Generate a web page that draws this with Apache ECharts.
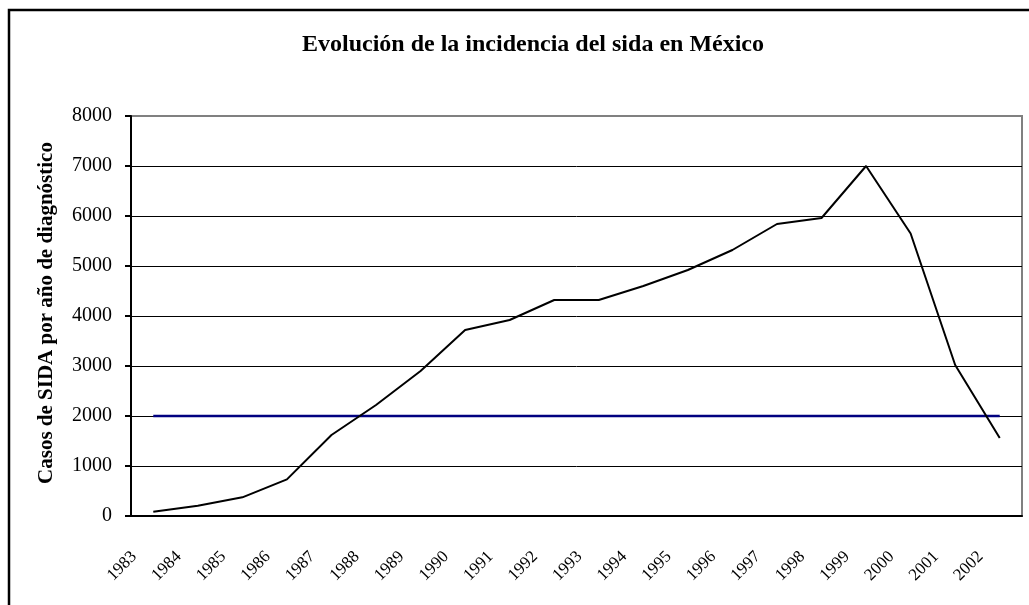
<!DOCTYPE html>
<html>
<head>
<meta charset="utf-8">
<script src="https://cdn.jsdelivr.net/npm/echarts@6/dist/echarts.min.js"></script>
<style>html,body{margin:0;padding:0;background:#fff}#c{width:1029px;height:605px}</style>
</head>
<body>
<div id="c"></div>
<script>
var years = ['1983','1984','1985','1986','1987','1988','1989','1990','1991','1992','1993','1994','1995','1996','1997','1998','1999','2000','2001','2002'];
var casos = [86, 206, 373, 733, 1620, 2220, 2900, 3720, 3920, 4320, 4320, 4600, 4920, 5320, 5840, 5960, 7000, 5650, 3020, 1560];
var referencia = [2000,2000,2000,2000,2000,2000,2000,2000,2000,2000,2000,2000,2000,2000,2000,2000,2000,2000,2000,2000];
var titleText = 'Evolución de la incidencia del sida en México';
var yName = 'Casos de SIDA por año de diagnóstico';

var serif = '"Liberation Serif", "Times New Roman", serif';
var chart = echarts.init(document.getElementById('c'));
chart.setOption({
  animation: false,
  backgroundColor: '#fff',
  grid: {left: 131, right: 7, top: 116, bottom: 89, show: true, borderColor: '#808080', borderWidth: 2, backgroundColor: 'transparent'},
  graphic: [
    {type: 'rect', shape: {x: 9, y: 10, width: 1100, height: 700}, style: {fill: 'none', stroke: '#000', lineWidth: 2.5}, z: 100},
    {type: 'text', x: 533, y: 45, style: {text: titleText, fontFamily: serif, fontWeight: 'bold', fontSize: 24, fill: '#000', textAlign: 'center', textVerticalAlign: 'middle'}},
    {type: 'text', x: 47, y: 313, rotation: Math.PI / 2, style: {text: yName, fontFamily: serif, fontWeight: 'bold', fontSize: 21, fill: '#000', textAlign: 'center', textVerticalAlign: 'middle'}}
  ],
  xAxis: {
    type: 'category',
    data: years,
    boundaryGap: true,
    axisLine: {lineStyle: {color: '#000', width: 2}},
    axisTick: {length: 6, lineStyle: {color: '#000', width: 2}},
    axisLabel: {rotate: 45, fontFamily: serif, fontSize: 17, color: '#000', margin: 19, padding: [0, 27, 0, 0], interval: 0},
    splitLine: {show: false}
  },
  yAxis: {
    type: 'value',
    min: 0, max: 8000, interval: 1000,
    axisLine: {show: true, lineStyle: {color: '#000', width: 2}},
    axisTick: {show: true, length: 6, lineStyle: {color: '#000', width: 2}},
    axisLabel: {fontFamily: serif, fontSize: 20, color: '#000', margin: 19, formatter: function (v) { return String(v); }},
    splitLine: {show: true, lineStyle: {color: ['#000','#000','#000','#000','#000','#000','#000','#000','#808080'], width: 1}}
  },
  series: [
    {type: 'line', data: referencia, showSymbol: false, symbol: 'none', lineStyle: {color: '#000080', width: 2.5}, itemStyle: {color: '#000080'}, z: 3},
    {type: 'line', data: casos, showSymbol: false, symbol: 'none', lineStyle: {color: '#000', width: 2}, itemStyle: {color: '#000'}, z: 4}
  ]
});
</script>
</body>
</html>
